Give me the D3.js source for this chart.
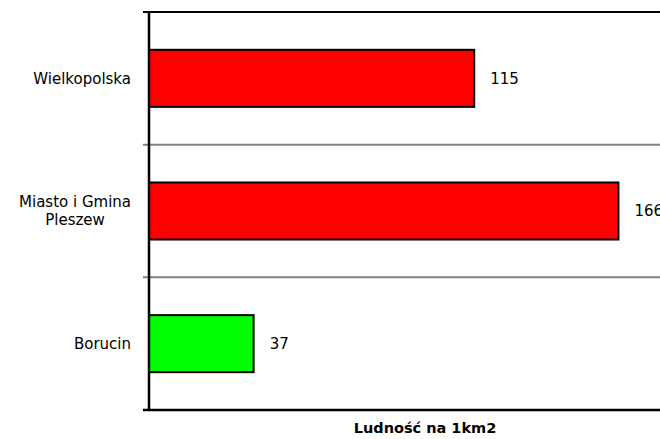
<!DOCTYPE html>
<html>
<head>
<meta charset="utf-8">
<script src="https://cdn.jsdelivr.net/npm/d3@7"></script>
<style>
  body { margin: 0; background: #fff; }
  text { font-family: "DejaVu Sans", Verdana, sans-serif; fill: #000; }
</style>
</head>
<body>
<div id="chart"></div>
<script>
// dane
var categories = ["Wielkopolska", "Miasto i Gmina Pleszew", "Borucin"];
var labelLines = [["Wielkopolska"], ["Miasto i Gmina", "Pleszew"], ["Borucin"]];
var values = [115, 166, 37];
var barColors = ["#ff0000", "#ff0000", "#00ff00"];
var axisTitle = "Ludność na 1km2";

var width = 660, height = 439;
var plotLeft = 149, plotRight = 658, plotTop = 12, plotBottom = 410;

var svg = d3.select("#chart").append("svg")
    .attr("width", width)
    .attr("height", height);

var x = d3.scaleLinear().domain([0, 180]).range([plotLeft, plotRight]);
var y = d3.scaleBand().domain(categories).range([plotTop, plotBottom]).padding(0);
var barH = y.bandwidth() * 0.43;

// linie siatki + kreski osi
var bounds = categories.map(function(c) { return y(c); });
svg.selectAll(".grid")
    .data(bounds)
    .enter().append("line")
    .attr("class", "grid")
    .attr("x1", plotLeft - 6).attr("x2", width)
    .attr("y1", function(d) { return d; })
    .attr("y2", function(d) { return d; })
    .attr("stroke", function(d, i) { return i == 0 ? "#000" : "#808080"; })
    .attr("stroke-width", 2);

// słupki
svg.selectAll(".bar")
    .data(values)
    .enter().append("rect")
    .attr("class", "bar")
    .attr("x", x(0))
    .attr("y", function(d, i) { return y(categories[i]) + (y.bandwidth() - barH) / 2; })
    .attr("width", function(d) { return x(d) - x(0); })
    .attr("height", barH)
    .attr("fill", function(d, i) { return barColors[i]; })
    .attr("stroke", "#000")
    .attr("stroke-width", 2);

// wartości
svg.selectAll(".val")
    .data(values)
    .enter().append("text")
    .attr("class", "val")
    .attr("x", function(d) { return x(d) + 16; })
    .attr("y", function(d, i) { return y(categories[i]) + y.bandwidth() / 2; })
    .attr("dy", "0.35em")
    .style("font-size", "15px")
    .text(function(d) { return d; });

// osie
svg.append("line")
    .attr("x1", plotLeft).attr("x2", plotLeft)
    .attr("y1", plotTop - 1).attr("y2", plotBottom + 1)
    .attr("stroke", "#000").attr("stroke-width", 2.5);
svg.append("line")
    .attr("x1", plotLeft - 6).attr("x2", width)
    .attr("y1", plotBottom).attr("y2", plotBottom)
    .attr("stroke", "#000").attr("stroke-width", 2.5);

// etykiety kategorii
var labelRight = 131, lineH = 18;
categories.forEach(function(c, i) {
    var lines = labelLines[i];
    var g = svg.append("text")
        .style("font-size", "15px")
        .attr("text-anchor", "middle");
    var cy = y(c) + y.bandwidth() / 2 - (lines.length - 1) * lineH / 2;
    lines.forEach(function(l, j) {
        g.append("tspan")
            .attr("y", cy + j * lineH)
            .attr("dy", "0.35em")
            .text(l);
    });
    var w = d3.max(g.selectAll("tspan").nodes(), function(n) { return n.getComputedTextLength(); });
    g.selectAll("tspan").attr("x", labelRight - w / 2);
});

// tytuł osi
svg.append("text")
    .attr("x", 425)
    .attr("y", 433)
    .attr("text-anchor", "middle")
    .style("font-size", "14.5px")
    .style("font-weight", "bold")
    .text(axisTitle);
</script>
</body>
</html>
